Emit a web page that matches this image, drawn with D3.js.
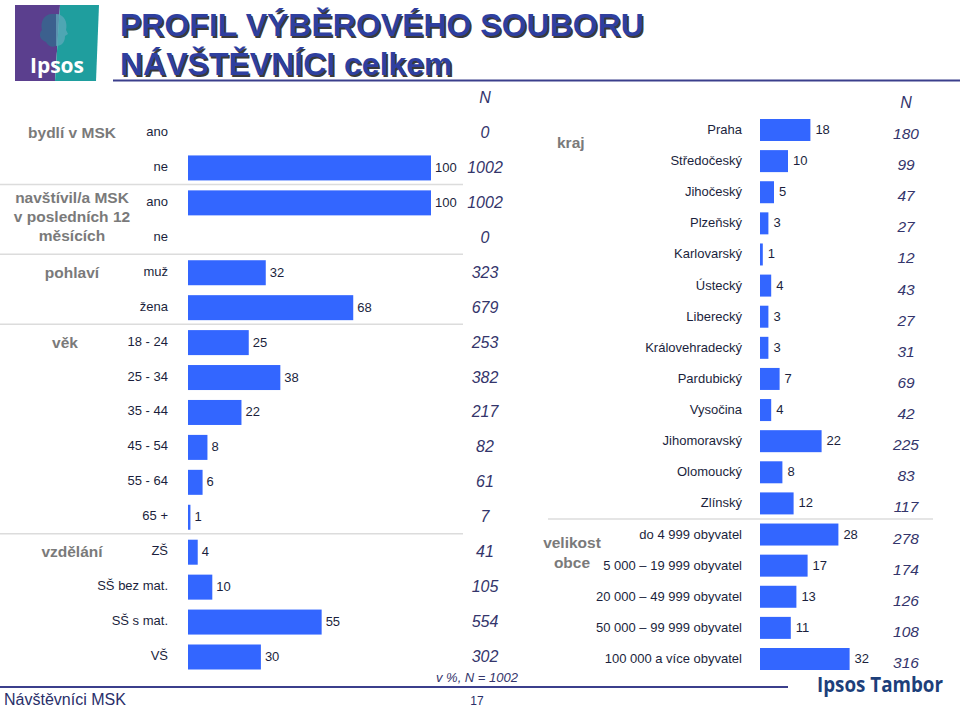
<!DOCTYPE html>
<html><head><meta charset="utf-8">
<script src="https://cdn.jsdelivr.net/npm/d3@7"></script>
<style>body{margin:0;background:#fff}svg{display:block}</style>
</head><body>
<script>
// ---- data ----
const leftCategories = ["ano","ne","ano","ne","muž","žena","18 - 24","25 - 34","35 - 44","45 - 54","55 - 64","65 +","ZŠ","SŠ bez mat.","SŠ s mat.","VŠ"];
const leftValues = [0,100,100,0,32,68,25,38,22,8,6,1,4,10,55,30];
const leftN = [0,1002,1002,0,323,679,253,382,217,82,61,7,41,105,554,302];
const leftGroups = [
  {lines:["bydlí v MSK"], row:0},
  {lines:["navštívil/a MSK","v posledních 12","měsících"], row:2},
  {lines:["pohlaví"], row:4},
  {lines:["věk"], row:6},
  {lines:["vzdělání"], row:12}
];
const leftSeparatorsAfter = [1,3,5,11];

const rightCategories = ["Praha","Středočeský","Jihočeský","Plzeňský","Karlovarský","Ústecký","Liberecký","Královehradecký","Pardubický","Vysočina","Jihomoravský","Olomoucký","Zlínský","do 4 999 obyvatel","5 000 – 19 999 obyvatel","20 000 – 49 999 obyvatel","50 000 – 99 999 obyvatel","100 000 a více obyvatel"];
const rightValues = [18,10,5,3,1,4,3,3,7,4,22,8,12,28,17,13,11,32];
const rightN = [180,99,47,27,12,43,27,31,69,42,225,83,117,278,174,126,108,316];
const rightSeparatorsAfter = [12];

const W = 960, H = 707;
const svg = d3.select("body").append("svg").attr("width", W).attr("height", H);

const BAR = "#3366ff", LAB = "#1b1f3d", NCOL = "#34356b", GRP = "#7a7a7a";
const FONT = "Arial, 'Liberation Sans', sans-serif";

// ---- logo ----
const logo = svg.append("g");
logo.append("path").attr("d","M15,5 L60,5 L55,81 L15,81 Z").attr("fill","#5b3f8e");
logo.append("path").attr("d","M60,5 L99,5 L96,81 L55,81 Z").attr("fill","#1f9e9e");
logo.append("path").attr("d","M52,14 C44,14 40,22 42,30 C38,34 40,40 46,42 C48,46 52,48 56,46 L56,14 Z").attr("fill","#2f6f8f").attr("opacity",0.7);
logo.append("path").attr("d","M56,14 C64,14 68,22 66,30 L68,34 L65,36 C65,42 62,46 56,46 Z").attr("fill","#5aa8b8").attr("opacity",0.8);
logo.append("text").attr("x",57).attr("y",73).attr("text-anchor","middle")
  .attr("font-family","'Open Sans', Arial, sans-serif").attr("font-weight","bold").attr("font-size",21)
  .attr("fill","#fff").text("Ipsos");

// ---- title ----
const titleLines = ["PROFIL VÝBĚROVÉHO SOUBORU","NÁVŠTĚVNÍCI celkem"];
titleLines.forEach((t,i)=>{
  const y = 36 + i*39;
  svg.append("text").attr("x",121.5).attr("y",y+1.5).attr("font-family",FONT).attr("font-weight","bold")
    .attr("font-size",32).attr("fill","#3a3a3a").text(t);
  svg.append("text").attr("x",120).attr("y",y).attr("font-family",FONT).attr("font-weight","bold")
    .attr("font-size",32).attr("fill","#2f3f9f").text(t);
});
svg.append("line").attr("x1",113).attr("x2",960).attr("y1",80.5).attr("y2",80.5)
  .attr("stroke","#3b3f8c").attr("stroke-width",2);

// ---- left panel ----
const xL = d3.scaleLinear().domain([0,100]).range([188,431]);
const yL = d3.scalePoint().domain(d3.range(leftCategories.length)).range([132,656]);
const barHL = 25;

const gL = svg.append("g");
leftSeparatorsAfter.forEach(i=>{
  const y = (yL(i)+yL(i+1))/2;
  gL.append("line").attr("x1",0).attr("x2",463).attr("y1",y).attr("y2",y)
    .attr("stroke","#dcdcdc").attr("stroke-width",1.5);
});
gL.selectAll("rect.bar").data(leftValues).join("rect")
  .attr("x",xL(0)).attr("y",(d,i)=>yL(i)-barHL/2+1)
  .attr("width",d=>xL(d)-xL(0)).attr("height",barHL).attr("fill",BAR);
leftValues.forEach((d,i)=>{
  if(d>0) gL.append("text").attr("x",xL(d)+4).attr("y",yL(i)+5).attr("font-family",FONT)
    .attr("font-size",13).attr("fill",LAB).text(d);
  gL.append("text").attr("x",168).attr("y",yL(i)+4).attr("text-anchor","end").attr("font-family",FONT)
    .attr("font-size",13).attr("fill",LAB).text(leftCategories[i]);
  gL.append("text").attr("x",485).attr("y",yL(i)+6).attr("text-anchor","middle").attr("font-family",FONT)
    .attr("font-style","italic").attr("font-size",16).attr("fill",NCOL).text(leftN[i]);
});
gL.append("text").attr("x",485).attr("y",103).attr("text-anchor","middle").attr("font-family",FONT)
  .attr("font-style","italic").attr("font-size",16).attr("fill",NCOL).text("N");
leftGroups.forEach(g=>{
  const n = g.lines.length;
  g.lines.forEach((l,k)=>{
    const y = n===1 ? yL(g.row)+6 : yL(g.row)+1 + k*19;
    gL.append("text").attr("x", g.lines[0]==="věk" ? 65 : 72).attr("y",y).attr("text-anchor","middle")
      .attr("font-family",FONT).attr("font-weight","bold").attr("font-size",15.5).attr("fill",GRP).text(l);
  });
});
gL.append("text").attr("x",518).attr("y",682).attr("text-anchor","end").attr("font-family",FONT)
  .attr("font-style","italic").attr("font-size",13).attr("fill",NCOL).text("v %, N = 1002");

// ---- right panel ----
const xR = d3.scaleLinear().domain([0,100]).range([760,1040]);
const yR = d3.scalePoint().domain(d3.range(rightCategories.length)).range([130,659]);
const barHR = 22;
const gR = svg.append("g");
rightSeparatorsAfter.forEach(i=>{
  const y = (yR(i)+yR(i+1))/2;
  gR.append("line").attr("x1",548).attr("x2",933).attr("y1",y).attr("y2",y)
    .attr("stroke","#dcdcdc").attr("stroke-width",1.5);
});
gR.selectAll("rect.bar").data(rightValues).join("rect")
  .attr("x",xR(0)).attr("y",(d,i)=>yR(i)-barHR/2)
  .attr("width",d=>xR(d)-xR(0)).attr("height",barHR).attr("fill",BAR);
rightValues.forEach((d,i)=>{
  gR.append("text").attr("x",xR(d)+5).attr("y",yR(i)+4).attr("font-family",FONT)
    .attr("font-size",13).attr("fill",LAB).text(d);
  gR.append("text").attr("x",742).attr("y",yR(i)+4).attr("text-anchor","end").attr("font-family",FONT)
    .attr("font-size",13).attr("fill",LAB).text(rightCategories[i]);
  gR.append("text").attr("x",906).attr("y",yR(i)+9).attr("text-anchor","middle").attr("font-family",FONT)
    .attr("font-style","italic").attr("font-size",15.5).attr("fill",NCOL).text(rightN[i]);
});
gR.append("text").attr("x",906).attr("y",108).attr("text-anchor","middle").attr("font-family",FONT)
  .attr("font-style","italic").attr("font-size",16).attr("fill",NCOL).text("N");
gR.append("text").attr("x",557).attr("y",148).attr("font-family",FONT).attr("font-weight","bold")
  .attr("font-size",15.5).attr("fill",GRP).text("kraj");
["velikost","obce"].forEach((t,k)=>{
  gR.append("text").attr("x",572).attr("y",548+k*20).attr("text-anchor","middle").attr("font-family",FONT)
    .attr("font-weight","bold").attr("font-size",15.5).attr("fill",GRP).text(t);
});

// ---- footer ----
svg.append("line").attr("x1",0).attr("x2",788).attr("y1",687).attr("y2",687)
  .attr("stroke","#3b3f8c").attr("stroke-width",2);
svg.append("text").attr("x",4).attr("y",705).attr("font-family",FONT).attr("font-size",16)
  .attr("fill","#2a2f6a").text("Návštěvníci MSK");
svg.append("text").attr("x",477).attr("y",705).attr("text-anchor","middle").attr("font-family",FONT)
  .attr("font-size",12).attr("fill","#2a2f6a").text("17");
svg.append("text").attr("x",817).attr("y",692).attr("font-family","'Open Sans', Arial, sans-serif")
  .attr("font-weight","bold").attr("font-size",21).attr("textLength",126).attr("lengthAdjust","spacingAndGlyphs")
  .attr("fill","#1d3f7a").text("Ipsos Tambor");
</script>
</body></html>
